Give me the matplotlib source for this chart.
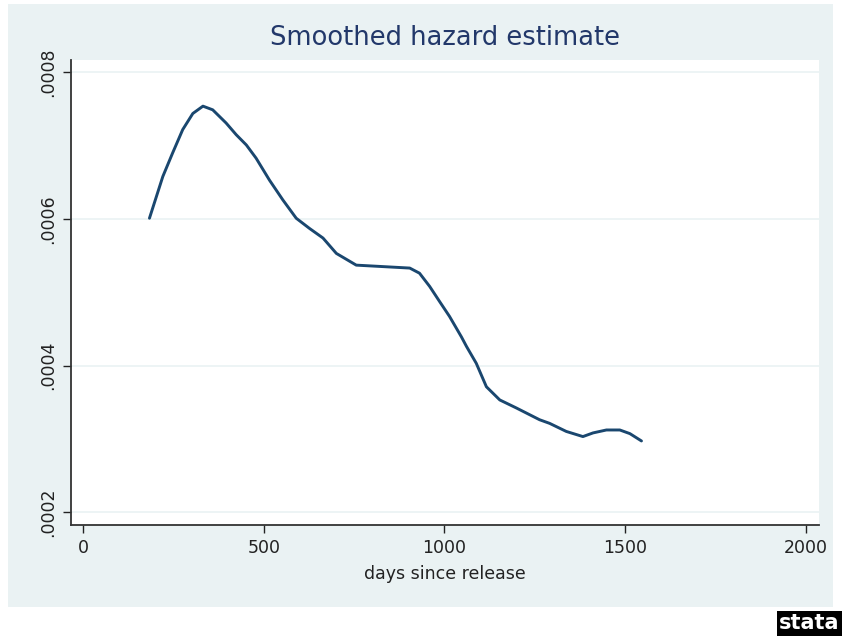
import matplotlib.pyplot as plt
from matplotlib.patches import Rectangle

# smoothed hazard
days = [184, 221, 248, 276, 304, 332, 359, 396, 424, 452, 479, 516, 553, 590,
        627, 664, 701, 756, 830, 904, 931, 959, 987, 1014, 1047, 1061, 1088,
        1116, 1153, 1199, 1263, 1291, 1337, 1383, 1411, 1448, 1485, 1513, 1545]
hazard = [0.000601, 0.000658, 0.000690, 0.000722, 0.000744, 0.000754, 0.000749,
          0.000731, 0.000715, 0.000701, 0.000683, 0.000653, 0.000626, 0.000601,
          0.000587, 0.000574, 0.000553, 0.000537, 0.000535, 0.000533, 0.000526,
          0.000508, 0.000487, 0.000467, 0.000439, 0.000426, 0.000403, 0.000371,
          0.000353, 0.000342, 0.000326, 0.000321, 0.000310, 0.000303, 0.000308,
          0.000312, 0.000312, 0.000307, 0.000297]

xticks = [0, 500, 1000, 1500, 2000]
yticks = [0.0002, 0.0004, 0.0006, 0.0008]
ylabels = [".0002", ".0004", ".0006", ".0008"]

navy = "#1A476F"
bg = "#EAF2F3"

plt.rcParams["font.family"] = ["DejaVu Sans"]

fig = plt.figure(figsize=(8.42, 6.36), dpi=100)
fig.patches.append(Rectangle((8 / 842, 29 / 636), 825 / 842, 603 / 636,
                             transform=fig.transFigure, facecolor=bg,
                             edgecolor="none", zorder=-1))

ax = fig.add_axes([71 / 842, 111 / 636, 748 / 842, 465 / 636])
ax.set_zorder(1)
ax.set_facecolor("white")
ax.plot(days, hazard, color=navy, lw=2.1, solid_joinstyle="round",
        solid_capstyle="round")

ax.set_xlim(-33, 2036)
ax.set_ylim(0.0001823, 0.000817)
ax.set_xticks(xticks)
ax.set_yticks(yticks)
ax.set_yticklabels(ylabels, rotation=90, va="center")
ax.grid(axis="y", color=bg, lw=1.2)
ax.set_axisbelow(True)

for s in ["top", "right"]:
    ax.spines[s].set_visible(False)
for s in ["left", "bottom"]:
    ax.spines[s].set_color("#333333")
    ax.spines[s].set_linewidth(1.3)
ax.tick_params(direction="out", length=6, width=1, colors="#222222",
               labelsize=12.5, pad=4)

ax.set_xlabel("days since release", fontsize=12.5, color="#222222", labelpad=6)
ax.set_title("Smoothed hazard estimate", fontsize=18.5, color="#22386A", pad=11)

fig.text(0.997, 0.004, "stata", ha="right", va="bottom", color="white",
         fontsize=15, fontweight="bold",
         bbox=dict(facecolor="black", edgecolor="none", pad=1.5))

fig.savefig("out.png", dpi=100)
